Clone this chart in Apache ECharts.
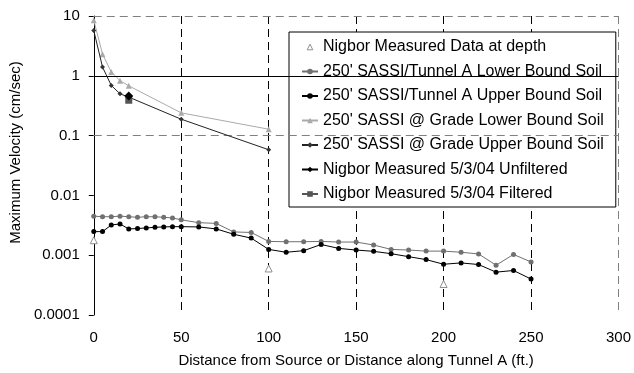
<!DOCTYPE html>
<html>
<head>
<meta charset="utf-8">
<script src="https://cdn.jsdelivr.net/npm/echarts@6/dist/echarts.min.js"></script>
<style>
  html, body { margin: 0; padding: 0; background: #fff; }
  #chart { width: 634px; height: 373px; }
</style>
</head>
<body>
<div id="chart"></div>
<script>
// distances (ft.) for the SASSI / Tunnel A runs
var tunnelDist = [0, 5, 10, 15, 20, 25, 30, 35, 40, 45, 50, 60, 70, 80, 90, 100, 110, 120, 130, 140,
                  150, 160, 170, 180, 190, 200, 210, 220, 230, 240, 250];
var tunnelLower = [0.0045, 0.0044, 0.0044, 0.0045, 0.0044, 0.0043, 0.0044, 0.0044, 0.0043, 0.0042,
                   0.0039, 0.0035, 0.0034, 0.00245, 0.0024, 0.0017, 0.00168, 0.00168, 0.0017, 0.00166,
                   0.00166, 0.00148, 0.00125, 0.00122, 0.00117, 0.00117, 0.00112, 0.00105, 0.00068, 0.00103, 0.00077];
var tunnelUpper = [0.00248, 0.00248, 0.0032, 0.00333, 0.00275, 0.00279, 0.00286, 0.00293, 0.00297, 0.003,
                   0.003, 0.00297, 0.00275, 0.00224, 0.00193, 0.00125, 0.00112, 0.00119, 0.00151, 0.0013,
                   0.00122, 0.00116, 0.00106, 0.000945, 0.000844, 0.000706, 0.000743, 0.000698, 0.000521, 0.000555, 0.000399];

// @ grade runs
var gradeDist = [0, 5, 10, 15, 20, 50, 100];
var gradeLower = [8.5, 2.3, 1.16, 0.83, 0.68, 0.24, 0.128];
var gradeUpper = [5.7, 1.4, 0.69, 0.5, 0.44, 0.188, 0.058];

// measured points
var depthDist = [0, 100, 200];
var depthVals = [0.00178, 0.0006, 0.00033];
var unfilteredDist = [20];
var unfilteredVals = [0.46];
var filteredDist = [20];
var filteredVals = [0.39];

var yTicks = [0.0001, 0.001, 0.01, 0.1, 1, 10];
var yTickLabels = ['0.0001', '0.001', '0.01', '0.1', '1', '10'];
var xTickLabels = ['0', '50', '100', '150', '200', '250', '300'];

var names = [
    'Nigbor Measured Data at depth',
    "250' SASSI/Tunnel A Lower Bound Soil",
    "250' SASSI/Tunnel A Upper Bound Soil",
    "250' SASSI @ Grade Lower Bound Soil",
    "250' SASSI @ Grade Upper Bound Soil",
    'Nigbor Measured 5/3/04 Unfiltered',
    'Nigbor Measured 5/3/04 Filtered'
];

function pairs(xs, ys) {
    var out = [];
    for (var i = 0; i < xs.length; i++) out.push([xs[i], ys[i]]);
    return out;
}

var FONT = '"Liberation Sans", Arial, sans-serif';

var hLines = [
    { yAxis: 10, lineStyle: { color: '#808080', type: [8, 5], width: 1 } },
    { yAxis: 1, lineStyle: { color: '#000', type: 'solid', width: 1 } },
    { yAxis: 0.1, lineStyle: { color: '#808080', type: [8, 5], width: 1 } },
    { yAxis: 0.001, lineStyle: { color: '#000', type: [8, 5], width: 1 } },
    { yAxis: 0.0001, lineStyle: { color: '#808080', type: [8, 5], width: 1 } }
];

var legendData = names.map(function (n, i) {
    if (i == 0) return { name: n, itemStyle: { color: '#fff', borderColor: '#909090', borderWidth: 1 } };
    return { name: n };
});

var myChart = echarts.init(document.getElementById('chart'));
var option = {
    animation: false,
    backgroundColor: '#fff',
    textStyle: { fontFamily: FONT },
    grid: { left: 87, right: 13, top: 16, bottom: 55, containLabel: false },
    xAxis: {
        type: 'value',
        min: 0, max: 300, interval: 50,
        name: 'Distance from Source or Distance along Tunnel A (ft.)',
        nameLocation: 'middle',
        nameGap: 38,
        nameTextStyle: { color: '#000', fontSize: 15, fontFamily: FONT },
        axisLine: { show: false },
        axisTick: { show: false },
        axisLabel: {
            color: '#000', fontSize: 15, fontFamily: FONT, margin: 15,
            formatter: function (v) { return xTickLabels[Math.round(v / 50)]; }
        },
        splitLine: {
            show: true,
            lineStyle: {
                color: ['#000', '#000', '#000', '#000', '#000', '#000', '#808080'],
                type: [8, 5], width: 1
            }
        }
    },
    yAxis: {
        type: 'log',
        logBase: 10,
        min: 0.0001, max: 10,
        name: 'Maximum Velocity (cm/sec)',
        nameLocation: 'middle',
        nameGap: 58,
        nameTextStyle: { color: '#000', fontSize: 15, fontFamily: FONT, padding: [0, 0, 0, 26] },
        axisLine: { show: true, lineStyle: { color: '#000', width: 1 } },
        axisTick: { show: true, length: 5, lineStyle: { color: '#000' } },
        axisLabel: {
            color: '#000', fontSize: 15, fontFamily: FONT, margin: 14,
            formatter: function (v) {
                for (var i = 0; i < yTicks.length; i++) {
                    if (Math.abs(Math.log10(v) - Math.log10(yTicks[i])) < 1e-6) return yTickLabels[i];
                }
                return '';
            }
        },
        splitLine: { show: false }
    },
    legend: {
        orient: 'vertical',
        left: 289, top: 32,
        backgroundColor: '#fff',
        borderColor: '#000', borderWidth: 1, borderRadius: 0,
        padding: [6, 12, 4, 12],
        itemGap: 6.5,
        itemWidth: 16, itemHeight: 7,
        textStyle: { color: '#000', fontSize: 16, fontFamily: FONT, lineHeight: 18 },
        data: legendData
    },
    series: [
        {
            // markers only, no connecting line
            name: names[0], type: 'line',
            data: pairs(depthDist, depthVals),
            symbol: 'triangle', symbolSize: 7,
            lineStyle: { opacity: 0, width: 0 },
            itemStyle: { color: '#fff', borderColor: '#909090', borderWidth: 1 },
            z: 3,
            markLine: {
                silent: true, symbol: 'none', animation: false,
                label: { show: false },
                data: hLines
            }
        },
        {
            name: names[1], type: 'line',
            data: pairs(tunnelDist, tunnelLower),
            symbol: 'circle', symbolSize: 5,
            lineStyle: { color: '#707070', width: 1 },
            itemStyle: { color: '#707070' },
            z: 4
        },
        {
            name: names[2], type: 'line',
            data: pairs(tunnelDist, tunnelUpper),
            symbol: 'circle', symbolSize: 5,
            lineStyle: { color: '#000', width: 1 },
            itemStyle: { color: '#000' },
            z: 5
        },
        {
            name: names[3], type: 'line',
            data: pairs(gradeDist, gradeLower),
            symbol: 'triangle', symbolSize: 6,
            lineStyle: { color: '#aaaaaa', width: 1 },
            itemStyle: { color: '#aaaaaa' },
            z: 4
        },
        {
            name: names[4], type: 'line',
            data: pairs(gradeDist, gradeUpper),
            symbol: 'diamond', symbolSize: 5,
            lineStyle: { color: '#222', width: 1 },
            itemStyle: { color: '#333' },
            z: 5
        },
        {
            name: names[5], type: 'line',
            data: pairs(unfilteredDist, unfilteredVals),
            symbol: 'diamond', symbolSize: 9,
            lineStyle: { color: '#000', width: 1 },
            itemStyle: { color: '#000' },
            z: 7
        },
        {
            name: names[6], type: 'line',
            data: pairs(filteredDist, filteredVals),
            symbol: 'rect', symbolSize: 7,
            lineStyle: { color: '#555', width: 1 },
            itemStyle: { color: '#555' },
            z: 6
        }
    ]
};
myChart.setOption(option);
</script>
</body>
</html>
